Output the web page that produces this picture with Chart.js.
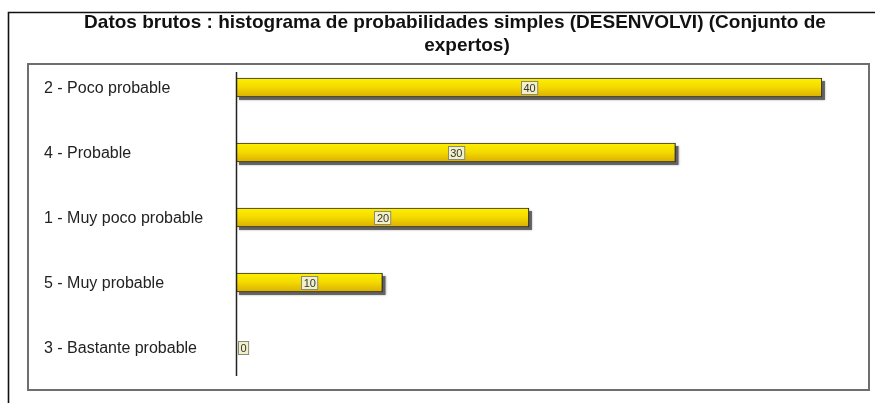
<!DOCTYPE html>
<html>
<head>
<meta charset="utf-8">
<script src="https://cdn.jsdelivr.net/npm/chart.js@4/dist/chart.umd.min.js"></script>
<style>
  html, body { margin: 0; padding: 0; background: #ffffff; }
  #wrap { width: 875px; height: 403px; position: relative; }
</style>
</head>
<body>
<div id="wrap"><canvas id="c" width="875" height="403"></canvas></div>
<script>
// Histogram categories (sorted by count) and their counts
const categories = [
  '2 - Poco probable',
  '4 - Probable',
  '1 - Muy poco probable',
  '5 - Muy probable',
  '3 - Bastante probable'
];
const counts = [40, 30, 20, 10, 0];
const titleLines = [
  'Datos brutos : histograma de probabilidades simples (DESENVOLVI) (Conjunto de',
  'expertos)'
];

const FONT = '"Liberation Sans", Arial, sans-serif';

// Frames, title, category labels, axis line and bar shadows
const decorPlugin = {
  id: 'decor',
  beforeDatasetsDraw(chart) {
    const ctx = chart.ctx;
    ctx.save();
    // outer frame (top + left)
    ctx.strokeStyle = '#111';
    ctx.lineWidth = 1.6;
    ctx.beginPath();
    ctx.moveTo(8.5, 403);
    ctx.lineTo(8.5, 12.5);
    ctx.lineTo(875, 12.5);
    ctx.stroke();
    // inner plot frame
    ctx.strokeStyle = '#6e6e6e';
    ctx.lineWidth = 2;
    ctx.strokeRect(28, 64, 841, 326);

    // title
    ctx.fillStyle = '#111';
    ctx.font = 'bold 19px ' + FONT;
    ctx.textAlign = 'center';
    ctx.textBaseline = 'alphabetic';
    ctx.fillText(titleLines[0], 455, 28);
    ctx.fillText(titleLines[1], 467, 51);

    // category labels
    const ys = chart.scales.y;
    ctx.font = '16px ' + FONT;
    ctx.fillStyle = '#222';
    ctx.textAlign = 'left';
    ctx.textBaseline = 'middle';
    categories.forEach((c, i) => {
      ctx.fillText(c, 44, ys.getPixelForValue(i) + 1);
    });

    // bar shadows
    const meta = chart.getDatasetMeta(0);
    ctx.fillStyle = 'rgba(70,70,70,0.75)';
    ctx.shadowColor = 'rgba(80,80,80,0.6)';
    ctx.shadowBlur = 2;
    meta.data.forEach((bar, i) => {
      if (counts[i] <= 0) return;
      const h = bar.height;
      ctx.fillRect(bar.base + 3, bar.y - h / 2 + 3, bar.x - bar.base, h);
    });
    ctx.restore();
  },
  afterDatasetsDraw(chart) {
    const ctx = chart.ctx;
    ctx.save();
    // vertical category axis
    const xs = chart.scales.x;
    const x0 = Math.round(xs.getPixelForValue(0)) + 0.5;
    ctx.strokeStyle = '#222';
    ctx.lineWidth = 1.5;
    ctx.beginPath();
    ctx.moveTo(x0, 72);
    ctx.lineTo(x0, 376);
    ctx.stroke();

    // value boxes
    const meta = chart.getDatasetMeta(0);
    ctx.font = '11px ' + FONT;
    ctx.textBaseline = 'middle';
    ctx.textAlign = 'center';
    meta.data.forEach((bar, i) => {
      const txt = String(counts[i]);
      const w = ctx.measureText(txt).width + 4;
      const h = 13;
      let cx = (bar.base + bar.x) / 2;
      if (counts[i] === 0) cx = bar.base + 1 + w / 2 + 1;
      const bx = Math.round(cx - w / 2) + 0.5;
      const by = Math.round(bar.y - h / 2) + 0.5;
      ctx.fillStyle = '#f1f0c8';
      ctx.fillRect(bx, by, w, h);
      ctx.strokeStyle = '#8a8a7a';
      ctx.lineWidth = 1;
      ctx.strokeRect(bx, by, w, h);
      ctx.fillStyle = '#333';
      ctx.fillText(txt, cx + 0.5, bar.y + 1);
    });
    ctx.restore();
  }
};

const barFill = (context) => {
  const chart = context.chart;
  const ys = chart.scales && chart.scales.y;
  if (!ys || context.dataIndex === undefined) return '#f2d400';
  const yc = ys.getPixelForValue(context.dataIndex);
  if (!isFinite(yc)) return '#f2d400';
  const g = chart.ctx.createLinearGradient(0, yc - 10, 0, yc + 10);
  g.addColorStop(0, '#fff200');
  g.addColorStop(0.5, '#f3d900');
  g.addColorStop(1, '#d9ac00');
  return g;
};

new Chart(document.getElementById('c'), {
  type: 'bar',
  data: {
    labels: categories,
    datasets: [{
      data: counts,
      backgroundColor: barFill,
      borderColor: '#2a2a2a',
      borderWidth: 1.2,
      borderSkipped: false,
      barThickness: 19
    }]
  },
  options: {
    indexAxis: 'y',
    responsive: false,
    animation: false,
    layout: { padding: { left: 236, right: 53, top: 55, bottom: 23 } },
    scales: {
      x: { min: 0, max: 40, display: false },
      y: { display: false }
    },
    plugins: {
      legend: { display: false },
      title: { display: false },
      tooltip: { enabled: false }
    }
  },
  plugins: [decorPlugin]
});
</script>
</body>
</html>
